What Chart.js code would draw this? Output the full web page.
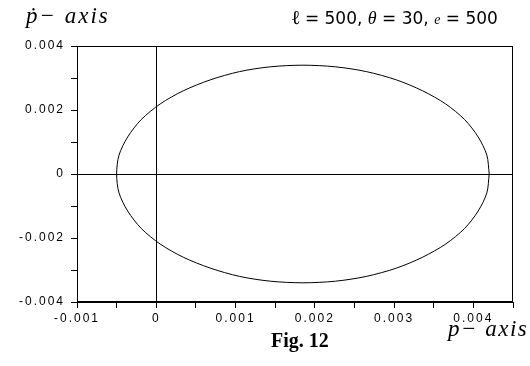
<!DOCTYPE html>
<html>
<head>
<meta charset="utf-8">
<script src="https://cdn.jsdelivr.net/npm/chart.js@4"></script>
<style>
  body { margin: 0; background: #fff; }
  #wrap { position: relative; width: 530px; height: 366px; }
  .lbl { position: absolute; font-family: "Liberation Serif", "DejaVu Serif", serif; color: #000; white-space: nowrap; }
</style>
</head>
<body>
<div id="wrap">
  <canvas id="phaseChart" width="530" height="366"></canvas>
  <div class="lbl" style="left:26px;top:3px;font-size:23px;font-style:italic;letter-spacing:2px;">ṗ− axis</div>
  <div class="lbl" style="left:292px;top:6px;font-size:17px;font-family:'DejaVu Sans',sans-serif;"><b style="font-family:'Liberation Serif',serif;font-size:20px">ℓ</b> = 500, <i style="font-family:'Liberation Serif',serif;font-size:18px">θ</i> = 30, <i style="font-family:'Liberation Serif',serif;font-size:14px">e</i> = 500</div>
  <div class="lbl" style="left:448px;top:316px;font-size:23px;font-style:italic;letter-spacing:1.5px;">p− axis</div>
  <div class="lbl" style="left:271px;top:329px;font-size:20px;font-weight:bold;">Fig. 12</div>
</div>
<script>
// trajectory points (p, p-dot)
const pValues = [
  0.00420, 0.00417, 0.00406, 0.00389, 0.00365, 0.00336, 0.00303, 0.00265, 0.00226,
  0.00185, 0.00144, 0.00105, 0.00068, 0.00034, 0.00005, -0.00019, -0.00036, -0.00047,
  -0.00050, -0.00047, -0.00036, -0.00019, 0.00005, 0.00034, 0.00068, 0.00105, 0.00144,
  0.00185, 0.00226, 0.00265, 0.00303, 0.00336, 0.00365, 0.00389, 0.00406, 0.00417, 0.00420
];
const pDotValues = [
  0, 0.00059, 0.00116, 0.00170, 0.00219, 0.00260, 0.00294, 0.00320, 0.00335,
  0.00340, 0.00335, 0.00320, 0.00294, 0.00260, 0.00219, 0.00170, 0.00116, 0.00059,
  0, -0.00059, -0.00116, -0.00170, -0.00219, -0.00260, -0.00294, -0.00320, -0.00335,
  -0.00340, -0.00335, -0.00320, -0.00294, -0.00260, -0.00219, -0.00170, -0.00116, -0.00059, 0
];
const xTickLabels = ["-0.001", "0", "0.001", "0.002", "0.003", "0.004"];
const yTickLabels = ["-0.004", "-0.002", "0", "0.002", "0.004"];

const points = pValues.map((p, i) => ({ x: p, y: pDotValues[i] }));

function labelFor(value, labels) {
  const found = labels.find((l) => Math.abs(parseFloat(l) - value) < 1e-9);
  return found === undefined ? "" : found;
}

// old-style spaced tick lettering + box round the plot
const frame = {
  id: "frame",
  beforeUpdate(chart) {
    chart.ctx.letterSpacing = "2px";
  },
  beforeDraw(chart) {
    chart.ctx.letterSpacing = "2px";
  },
  afterDraw(chart) {
    const a = chart.chartArea;
    const ctx = chart.ctx;
    ctx.save();
    ctx.strokeStyle = "#000";
    ctx.lineWidth = 1;
    ctx.strokeRect(a.left + 0.5, a.top + 0.5, a.right - a.left - 1, a.bottom - a.top - 1);
    ctx.restore();
  },
};

Chart.defaults.font.family = "'Liberation Sans', Arial, sans-serif";
Chart.defaults.font.size = 12;
Chart.defaults.color = "#000";

new Chart(document.getElementById("phaseChart"), {
  type: "scatter",
  data: {
    datasets: [
      {
        data: points,
        showLine: true,
        borderColor: "#000",
        borderWidth: 1,
        pointRadius: 0,
        tension: 0.3,
      },
    ],
  },
  options: {
    responsive: false,
    animation: false,
    plugins: { legend: { display: false }, tooltip: { enabled: false } },
    layout: { padding: { top: 46, right: 17, bottom: 40, left: 0 } },
    scales: {
      x: {
        min: -0.001,
        max: 0.0045,
        afterFit: (s) => { s.height = 24; },
        afterBuildTicks: (s) => {
          const t = [];
          for (let i = -2; i <= 9; i++) t.push({ value: i * 0.0005 });
          s.ticks = t;
        },
        ticks: {
          autoSkip: false,
          maxRotation: 0,
          padding: 3,
          callback: (v) => labelFor(v, xTickLabels),
        },
        grid: {
          color: (c) => (c.tick && Math.abs(c.tick.value) < 1e-9 ? "#000" : "rgba(0,0,0,0)"),
          tickColor: "#000",
          tickLength: 6,
          lineWidth: 1,
        },
        border: { display: true, color: "#000" },
      },
      y: {
        min: -0.004,
        max: 0.004,
        afterFit: (s) => { s.width = 77; },
        afterBuildTicks: (s) => {
          const t = [];
          for (let i = -4; i <= 4; i++) t.push({ value: i * 0.001 });
          s.ticks = t;
        },
        ticks: {
          autoSkip: false,
          padding: 6,
          callback: (v) => labelFor(v, yTickLabels),
        },
        grid: {
          color: (c) => (c.tick && Math.abs(c.tick.value) < 1e-9 ? "#000" : "rgba(0,0,0,0)"),
          tickColor: "#000",
          tickLength: 6,
          lineWidth: 1,
        },
        border: { display: true, color: "#000" },
      },
    },
  },
  plugins: [frame],
});
</script>
</body>
</html>
